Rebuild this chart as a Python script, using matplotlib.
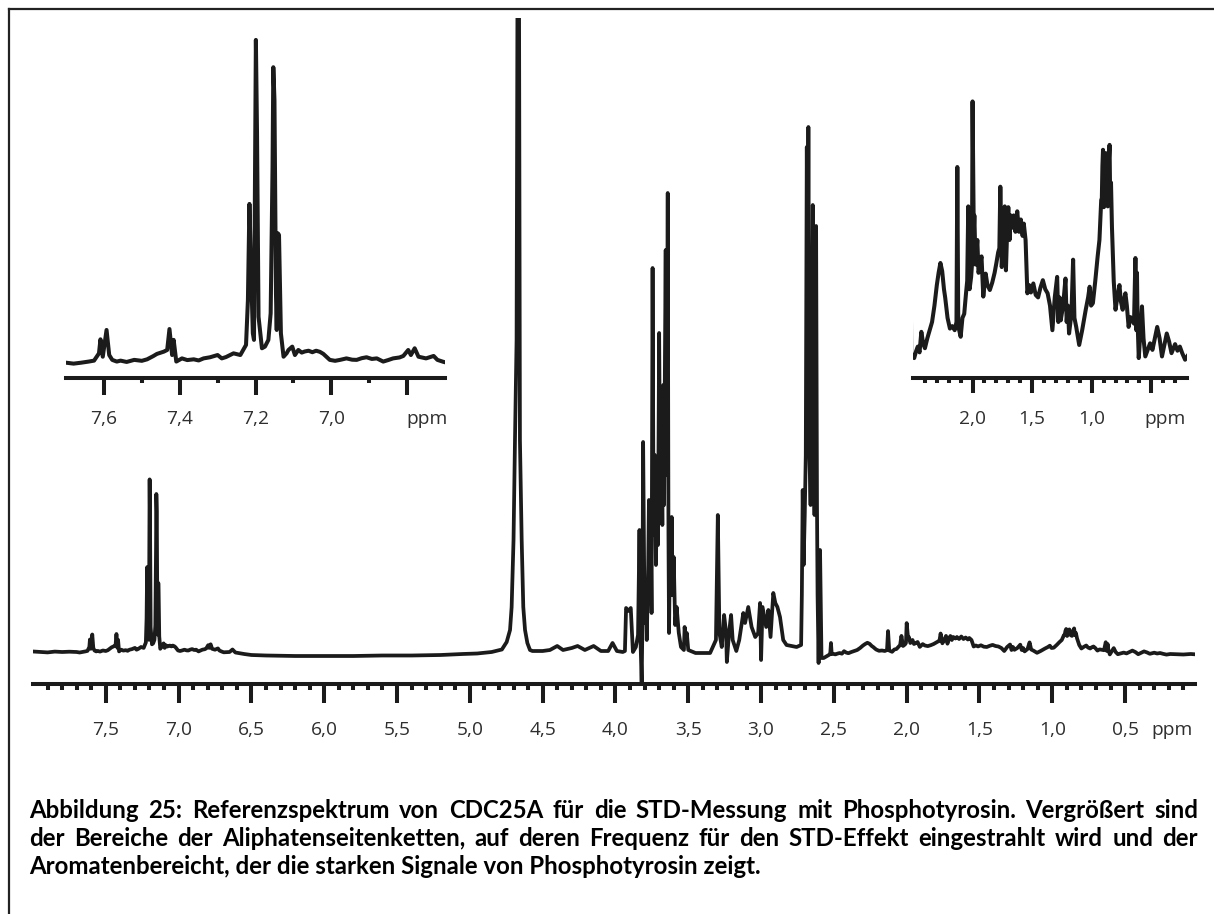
import matplotlib
matplotlib.use("Agg")
from matplotlib import pyplot as plt
from matplotlib import transforms
from matplotlib.lines import Line2D
from matplotlib.ticker import FixedLocator, NullFormatter

W, H, DPI = 1214, 914, 100
ink = "#1b1b1b"
label_color = "#2e2e2e"

# 1H spectrum, intensity in arbitrary units (0 = flat baseline), ppm decreasing
aromatic_ppm = [8.00, 7.95, 7.90, 7.85, 7.80, 7.75, 7.70, 7.68, 7.66, 7.64, 7.626, 7.613,
                7.609, 7.603, 7.593, 7.586, 7.578, 7.566, 7.556, 7.54, 7.52, 7.50, 7.486,
                7.47, 7.46, 7.442, 7.433, 7.427, 7.42, 7.416, 7.409, 7.394, 7.38, 7.363,
                7.35, 7.337, 7.32, 7.30, 7.289, 7.278, 7.267, 7.258, 7.24, 7.225, 7.22,
                7.216, 7.212, 7.207, 7.204, 7.201, 7.199, 7.196, 7.192, 7.183, 7.175,
                7.166, 7.16, 7.155, 7.153, 7.15, 7.146, 7.144, 7.141, 7.138, 7.133, 7.126,
                7.118, 7.113, 7.103, 7.096, 7.087, 7.078, 7.07, 7.06, 7.05, 7.04, 7.03,
                7.021, 7.004, 6.99, 6.977, 6.96, 6.945, 6.933, 6.92, 6.907, 6.893, 6.88,
                6.863, 6.85, 6.837, 6.82, 6.81, 6.797, 6.79, 6.78, 6.77, 6.75, 6.73,
                6.72, 6.705, 6.69]
aromatic_int = [3.5, 3.0, 2.6, 3.4, 3.0, 3.3, 3.0, 2.5, 3.0, 3.6, 4.1, 8.0,
                15.5, 6.2, 20.5, 7.1, 4.5, 3.6, 4.1, 3.4, 4.5, 4.0, 4.8,
                6.5, 7.7, 8.9, 9.8, 21.0, 7.1, 15.2, 3.6, 5.3, 4.4, 4.8,
                4.2, 5.3, 5.9, 7.1, 5.3, 6.0, 7.1, 8.0, 7.1, 12.5, 36.5,
                87.9, 54.4, 18.7, 15.2, 107.8, 175.6, 125.7, 27.6, 10.7, 11.6,
                15.2, 29.4, 107.8, 161.0, 143.5, 40.1, 20.5, 72.2, 71.3, 18.7, 6.2,
                8.0, 9.8, 11.6, 7.1, 9.8, 8.4, 9.0, 9.4, 8.6, 9.4, 8.8,
                7.7, 4.5, 4.0, 4.5, 5.3, 4.6, 4.5, 5.4, 5.9, 5.0, 5.3,
                3.6, 4.4, 5.3, 5.8, 6.6, 9.8, 7.1, 10.7, 6.2, 5.3, 6.6,
                4.5, 3.5, 2.7]

middle_ppm = [6.65, 6.63, 6.61, 6.55, 6.50, 6.40, 6.20, 6.00, 5.80, 5.60, 5.40, 5.20,
              5.05, 4.95, 4.85, 4.78, 4.747, 4.724, 4.713, 4.70, 4.69, 4.679, 4.667,
              4.656, 4.644, 4.633, 4.621, 4.605, 4.587, 4.57, 4.50, 4.45, 4.40, 4.36,
              4.30, 4.26, 4.21, 4.15, 4.10, 4.05, 4.02, 3.99, 3.95, 3.935, 3.927, 3.91,
              3.895, 3.88, 3.86, 3.845, 3.835, 3.828, 3.82, 3.815, 3.81, 3.80, 3.79,
              3.785, 3.775, 3.77, 3.763, 3.757, 3.752, 3.745, 3.738, 3.73, 3.722, 3.715,
              3.708, 3.70, 3.692, 3.685, 3.678, 3.672, 3.666, 3.66, 3.655, 3.65, 3.646,
              3.641, 3.636, 3.632, 3.627, 3.622, 3.614, 3.607, 3.60, 3.59, 3.58, 3.565,
              3.55, 3.53, 3.525, 3.515, 3.51, 3.50, 3.45, 3.35, 3.31, 3.297, 3.286,
              3.27, 3.254, 3.24, 3.235, 3.22, 3.206, 3.195, 3.17, 3.15, 3.122, 3.11,
              3.088, 3.065, 3.04, 3.02, 3.007, 3.00, 2.99, 2.965, 2.95, 2.935, 2.916,
              2.902, 2.888, 2.87, 2.848, 2.825, 2.756, 2.725, 2.72, 2.714, 2.708, 2.70,
              2.693, 2.686, 2.68, 2.675, 2.668, 2.66, 2.653, 2.645, 2.638, 2.633, 2.627,
              2.622, 2.616, 2.612, 2.605, 2.595, 2.588, 2.585, 2.57, 2.535, 2.525, 2.52,
              2.515, 2.50]
middle_int = [3.0, 5.5, 2.5, 1.0, 0.0, -0.5, -1.0, -1.0, -1.0, -0.5, -0.5, 0.0,
              1.0, 1.5, 3.0, 5.5, 13, 25, 48, 115, 215, 315, 1000,
              215, 115, 48, 25, 12, 5, 4, 4, 5, 9, 5,
              7, 9, 5, 9, 4, 4, 12, 4, 3, 4, 47, 44,
              47, 3, 8, 20, 125, 15, -28, 30, 213, 32, 60,
              15, 90, 155, 60, 110, 42, 387, 120, 200, 90, 160,
              110, 322, 140, 220, 130, 270, 150, 300, 405, 180, 250,
              462, 120, 22, 90, 60, 138, 60, 98, 30, 48, 22,
              8, 5, 28, 12, 22, 5, 2, 2, 15, 140, 22,
              8, 40, 22, -7, 22, 40, 15, 4, 15, 42, 32,
              48, 28, 18, 22, 52, -5, 48, 28, 45, 18, 62,
              52, 48, 38, 15, 10, 8, 10, 60, 165, 90, 140,
              200, 508, 300, 528, 200, 150, 250, 450, 200, 140, 260,
              429, 150, 60, -8, 105, 30, -3, -3, 0, 1, 12,
              1, 1]

aliphatic_ppm = [2.49, 2.475, 2.46, 2.445, 2.43, 2.415, 2.40, 2.38, 2.36, 2.34, 2.32, 2.30,
                 2.285, 2.27, 2.255, 2.24, 2.23, 2.21, 2.19, 2.17, 2.15, 2.135, 2.128,
                 2.12, 2.10, 2.085, 2.07, 2.055, 2.045, 2.036, 2.025, 2.012, 2.005, 2.00,
                 1.99, 1.985, 1.975, 1.96, 1.95, 1.94, 1.925, 1.91, 1.89, 1.875, 1.855,
                 1.835, 1.815, 1.80, 1.785, 1.775, 1.767, 1.755, 1.74, 1.73, 1.72, 1.71,
                 1.70, 1.69, 1.68, 1.665, 1.655, 1.64, 1.625, 1.61, 1.595, 1.58, 1.57,
                 1.555, 1.54, 1.525, 1.51, 1.49, 1.47, 1.45, 1.43, 1.41, 1.39, 1.37,
                 1.35, 1.33, 1.31, 1.29, 1.28, 1.27, 1.26, 1.24, 1.22, 1.21, 1.20,
                 1.19, 1.17, 1.156, 1.145, 1.13, 1.105, 1.08, 1.05, 1.03, 1.017, 1.005,
                 0.99, 0.97, 0.95, 0.935, 0.92, 0.915, 0.91, 0.905, 0.898, 0.89, 0.883,
                 0.875, 0.865, 0.858, 0.85, 0.845, 0.838, 0.83, 0.815, 0.80, 0.785, 0.767,
                 0.755, 0.74, 0.728, 0.717, 0.705, 0.69, 0.675, 0.66, 0.645, 0.633, 0.625,
                 0.62, 0.615, 0.605, 0.59, 0.578, 0.565, 0.55, 0.53, 0.51, 0.49, 0.47,
                 0.45, 0.43, 0.41, 0.39, 0.37, 0.35, 0.33, 0.30, 0.28, 0.26, 0.24,
                 0.216, 0.19, 0.15, 0.10, 0.05, 0.00]
aliphatic_int = [0.6, 1.4, 2.0, 1.3, 3.8, 2.4, 1.8, 3.0, 4.0, 5.0, 7.0, 9.5,
                 11.0, 12.2, 11.2, 9.0, 8.0, 5.5, 4.2, 4.5, 4.0, 5.0, 23.9,
                 4.5, 3.2, 5.5, 6.0, 8.5, 10.0, 19.1, 9.0, 10.5, 12.0, 31.9,
                 16.0, 18.0, 12.0, 15.0, 11.0, 11.7, 13.0, 8.1, 10.9, 9.5, 8.9,
                 9.8, 11.0, 12.2, 13.5, 14.0, 21.5, 11.7, 15.5, 19.1, 11.3, 16.0,
                 19.0, 15.0, 18.0, 16.5, 18.0, 16.0, 18.5, 16.0, 17.5, 15.5, 17.0,
                 15.0, 8.5, 9.5, 8.6, 9.7, 8.3, 8.0, 9.2, 10.1, 9.0, 8.5,
                 7.0, 4.0, 8.0, 10.5, 5.0, 8.0, 5.2, 7.0, 10.3, 5.0, 7.0,
                 3.6, 6.0, 12.6, 5.5, 4.4, 2.2, 4.0, 6.5, 8.0, 9.3, 7.0,
                 7.3, 10.0, 13.0, 15.0, 19.9, 20.0, 24.0, 26.0, 19.0, 22.0, 25.6,
                 20.0, 19.1, 24.0, 26.6, 20.0, 22.0, 16.6, 10.0, 6.5, 8.0, 9.5,
                 7.5, 6.5, 7.8, 8.5, 7.0, 4.4, 5.6, 5.2, 4.8, 12.8, 4.0,
                 11.0, 5.2, 0.6, 4.0, 6.9, 3.0, 0.8, 1.6, 2.4, 1.6, 3.0,
                 4.4, 3.0, 0.8, 2.2, 3.6, 2.6, 1.2, 2.3, 1.5, 2.0, 1.2,
                 0.4, 1.0, 0.8, 0.5, 1.0, 0.5]

main_ticks = [7.5, 7.0, 6.5, 6.0, 5.5, 5.0, 4.5, 4.0, 3.5, 3.0, 2.5, 2.0, 1.5, 1.0, 0.5]
main_labels = ["7,5", "7,0", "6,5", "6,0", "5,5", "5,0", "4,5", "4,0",
               "3,5", "3,0", "2,5", "2,0", "1,5", "1,0", "0,5"]
arom_ticks = [7.6, 7.4, 7.2, 7.0, 6.8]
arom_labels = ["7,6", "7,4", "7,2", "7,0", ""]
aliph_ticks = [2.0, 1.5, 1.0, 0.5]
aliph_labels = ["2,0", "1,5", "1,0", ""]

caption_lines = [
    "Abbildung 25: Referenzspektrum von CDC25A für die STD-Messung mit Phosphotyrosin. Vergrößert sind",
    "der Bereiche der Aliphatenseitenketten, auf deren Frequenz für den STD-Effekt eingestrahlt wird und der",
    "Aromatenbereicht, der die starken Signale von Phosphotyrosin zeigt.",
]

ppm = aromatic_ppm + middle_ppm + aliphatic_ppm
intensity = aromatic_int + middle_int + aliphatic_int

fig = plt.figure(figsize=(W / DPI, H / DPI), dpi=DPI)
fig.patch.set_facecolor("white")


def px_axes(left, top, right, bottom):
    ax = fig.add_axes([left / W, 1 - bottom / H, (right - left) / W, (bottom - top) / H])
    ax.patch.set_alpha(0)
    return ax


def ppm_axis(ax, major, labels, label_y, ppm_x, major_len, minor_len, lw):
    for side in ("left", "right", "top"):
        ax.spines[side].set_visible(False)
    ax.spines["bottom"].set_linewidth(lw)
    ax.spines["bottom"].set_color(ink)
    ax.set_yticks([])
    lo, hi = sorted(ax.get_xlim())
    minor = [i / 10 for i in range(int(lo * 10) + 1, int(hi * 10) + 1)
             if lo < i / 10 < hi and all(abs(i / 10 - m) > 1e-6 for m in major)]
    ax.xaxis.set_major_locator(FixedLocator(major))
    ax.xaxis.set_minor_locator(FixedLocator(minor))
    ax.xaxis.set_major_formatter(NullFormatter())
    ax.tick_params(axis="x", which="major", direction="out", length=major_len, width=lw, color=ink)
    ax.tick_params(axis="x", which="minor", direction="out", length=minor_len, width=lw, color=ink)
    trans = transforms.blended_transform_factory(ax.transData, fig.transFigure)
    for value, text in zip(major, labels):
        if text:
            ax.text(value, 1 - label_y / H, text, transform=trans, ha="center", va="baseline",
                    fontsize=13.8, family=["Open Sans", "DejaVu Sans"], color=label_color)
    fig.text(ppm_x / W, 1 - label_y / H, "ppm", ha="center", va="baseline",
             fontsize=13.8, family=["Open Sans", "DejaVu Sans"], color=label_color)


line_kw = dict(color=ink, solid_joinstyle="round", solid_capstyle="round")

# full spectrum
ax = px_axes(33, 18, 1195, 683.5)
ax.plot(ppm, intensity, lw=2.7, **line_kw)
ax.set_xlim(8.0, 0.02)
ax.set_ylim(-28.5, 637)
ppm_axis(ax, main_ticks, main_labels, 735, 1172, 13.7, 4.3, 2.9)

# aromatic region, enlarged
ax1 = px_axes(66, 30, 445, 378)
ax1.plot(ppm, intensity, lw=2.9, **line_kw)
ax1.set_xlim(7.7, 6.7)
ax1.set_ylim((368.3 - 378) / 1.87, (368.3 - 30) / 1.87)
ppm_axis(ax1, arom_ticks, arom_labels, 423.5, 427, 12.2, 3.6, 2.9)

# aliphatic region, enlarged
ax2 = px_axes(913, 30, 1187, 378)
ax2.plot(ppm, intensity, lw=2.9, **line_kw)
ax2.set_xlim(2.5, 0.2)
ax2.set_ylim((363 - 378) / 8.2, (363 - 30) / 8.2)
ppm_axis(ax2, aliph_ticks, aliph_labels, 423.5, 1165, 10.8, 3.6, 2.9)

# frame around the figure
fig.add_artist(Line2D([8.5 / W, 8.5 / W], [0, 1 - 8.5 / H], color="#222222", lw=1.6))
fig.add_artist(Line2D([8.5 / W, 1], [1 - 8.5 / H, 1 - 8.5 / H], color="#222222", lw=1.6))

# caption, first two lines justified to the full width
cap_family = ["Lato", "DejaVu Sans"]
cap_left, cap_right = 29, 1198
cap_baselines = [818, 846, 874]
renderer = fig.canvas.get_renderer()


def text_width(s, size):
    t = fig.text(0, 0, s, fontsize=size, fontweight="bold", family=cap_family)
    w = t.get_window_extent(renderer).width
    t.remove()
    return w


cap_size = 12 * 728 / text_width(caption_lines[2], 12)
for line, base in zip(caption_lines, cap_baselines):
    y = 1 - base / H
    if line is caption_lines[-1]:
        fig.text(cap_left / W, y, line, fontsize=cap_size, fontweight="bold",
                 family=cap_family, color="black", va="baseline")
        continue
    words = line.split(" ")
    widths = [text_width(w, cap_size) for w in words]
    gap = (cap_right - cap_left - sum(widths)) / (len(words) - 1)
    x = cap_left
    for word, wd in zip(words, widths):
        fig.text(x / W, y, word, fontsize=cap_size, fontweight="bold",
                 family=cap_family, color="black", va="baseline")
        x += wd + gap

fig.savefig("out.png", dpi=DPI, facecolor="white")
